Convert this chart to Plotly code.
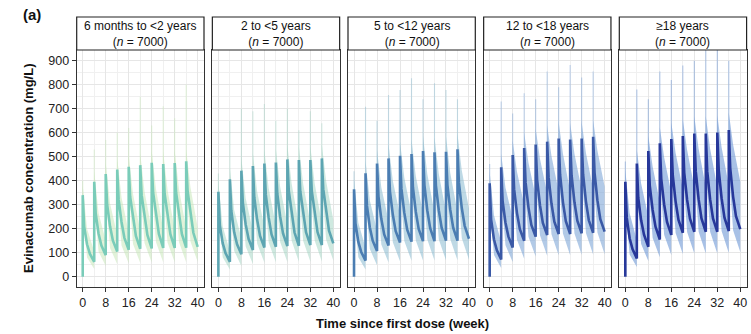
import plotly.graph_objects as go

# ---------------- data ----------------
dose_weeks = [0, 4, 8, 12, 16, 20, 24, 28, 32, 36]
end_week = 40
med_offsets = [0.5, 1.5, 2.5]     # sample times after each dose (median)
band_offsets = [1.5]              # sample times after each dose (band)

panel_titles = ["6 months to &lt;2 years", "2 to &lt;5 years", "5 to &lt;12 years",
                "12 to &lt;18 years", "≥18 years"]
panel_n = [7000, 7000, 7000, 7000, 7000]

# median rows per dose: [peak, +0.5 wk, +1.5 wk, +2.5 wk, value at next dose]
p1_median = [[340, 208, 135, 95, 62], [396, 265, 180, 130, 90], [428, 300, 210, 150, 105],
             [447, 320, 228, 162, 112], [458, 333, 240, 170, 116], [465, 340, 246, 174, 118],
             [475, 350, 252, 178, 120], [470, 346, 250, 177, 120], [474, 350, 252, 178, 121],
             [481, 356, 258, 183, 124]]
p2_median = [[354, 215, 140, 98, 62], [406, 275, 185, 135, 94], [442, 310, 218, 158, 111],
             [461, 330, 236, 170, 122], [472, 342, 246, 176, 125], [476, 346, 250, 180, 128],
             [489, 358, 258, 184, 129], [486, 356, 258, 185, 132], [486, 358, 260, 186, 132],
             [493, 365, 266, 192, 139]]
p3_median = [[364, 222, 145, 103, 67], [431, 295, 205, 150, 107], [472, 335, 240, 176, 130],
             [493, 356, 258, 190, 142], [504, 366, 266, 196, 146], [511, 372, 270, 199, 148],
             [524, 382, 276, 202, 148], [519, 380, 276, 203, 150], [521, 382, 278, 204, 150],
             [531, 392, 286, 212, 158]]
p4_median = [[389, 238, 155, 110, 72], [456, 315, 225, 168, 122], [507, 365, 265, 198, 150],
             [536, 392, 288, 216, 167], [551, 405, 298, 224, 174], [563, 415, 305, 229, 178],
             [576, 425, 310, 231, 178], [572, 423, 310, 233, 181], [576, 427, 313, 235, 183],
             [583, 433, 318, 240, 188]]
p5_median = [[396, 245, 160, 115, 76], [472, 328, 235, 175, 125], [524, 380, 278, 208, 155],
             [556, 408, 302, 228, 174], [574, 423, 313, 237, 183], [586, 433, 320, 242, 187],
             [597, 440, 323, 243, 187], [597, 440, 323, 243, 187], [601, 444, 327, 246, 190],
             [611, 453, 334, 252, 198]]

# prediction-interval rows per dose: [at dose, +1.5 wk, value at next dose]
p1_upper = [[380, 200, 105], [440, 265, 150], [475, 305, 175], [495, 330, 185], [505, 345, 192],
            [515, 355, 195], [525, 365, 198], [520, 362, 198], [525, 365, 200], [530, 372, 205]]
p1_lower = [[270, 80, 32], [320, 105, 45], [345, 120, 52], [360, 130, 56], [368, 136, 58],
            [372, 140, 59], [380, 144, 60], [376, 143, 60], [380, 144, 60], [385, 147, 62]]
p2_upper = [[395, 210, 105], [455, 278, 160], [495, 327, 189], [516, 354, 207], [529, 369, 213],
            [533, 375, 218], [548, 387, 219], [544, 387, 224], [544, 390, 224], [552, 399, 236]]
p2_lower = [[276, 81, 30], [317, 107, 45], [345, 126, 53], [360, 137, 59], [368, 143, 60],
            [371, 145, 61], [381, 150, 62], [379, 150, 63], [379, 151, 63], [385, 154, 67]]
p3_upper = [[408, 225, 121], [483, 318, 193], [529, 372, 234], [552, 400, 256], [564, 412, 263],
            [572, 419, 266], [587, 428, 266], [581, 428, 270], [584, 431, 270], [595, 443, 284]]
p3_lower = [[277, 81, 30], [328, 115, 48], [359, 134, 59], [375, 144, 64], [383, 149, 66],
            [388, 151, 67], [398, 155, 67], [394, 155, 68], [396, 156, 68], [404, 160, 71]]
p4_upper = [[436, 256, 144], [511, 371, 244], [568, 437, 300], [600, 475, 334], [617, 492, 348],
            [631, 503, 356], [645, 512, 356], [641, 512, 362], [645, 516, 366], [653, 525, 376]]
p4_lower = [[292, 90, 36], [342, 131, 61], [380, 154, 75], [402, 167, 84], [413, 173, 87],
            [422, 177, 89], [432, 180, 89], [429, 180, 91], [432, 182, 92], [437, 184, 94]]
p5_upper = [[444, 264, 152], [529, 388, 250], [587, 459, 310], [623, 498, 348], [643, 516, 366],
            [656, 528, 374], [669, 533, 374], [669, 533, 374], [673, 540, 380], [684, 551, 396]]
p5_lower = [[297, 93, 40], [354, 136, 65], [393, 161, 81], [417, 175, 90], [431, 182, 95],
            [440, 186, 97], [448, 187, 97], [448, 187, 97], [451, 190, 99], [458, 194, 103]]

# upper-percentile maxima right at the end of each infusion (thin spikes)
p1_spike = [400, 530, 570, 600, 620, 750, 630, 710, 660, 800]
p2_spike = [430, 650, 700, 690, 720, 650, 700, 610, 690, 640]
p3_spike = [440, 708, 650, 757, 778, 827, 740, 806, 778, 740]
p4_spike = [470, 730, 680, 765, 740, 855, 790, 882, 830, 855]
p5_spike = [480, 780, 740, 855, 820, 880, 900, 945, 960, 900]

x_ticks = [0, 8, 16, 24, 32, 40]
y_ticks = [0, 100, 200, 300, 400, 500, 600, 700, 800, 900]

# ---------------- style ----------------
line_colors = ["#7accb9", "#5da5b2", "#4b7db2", "#3a59a6", "#27389a"]
band_colors = ["rgba(195,230,180,0.5)", "rgba(155,208,190,0.48)", "rgba(130,182,205,0.52)",
               "rgba(115,158,212,0.55)", "rgba(105,148,212,0.58)"]
spike_colors = ["rgba(195,230,180,0.45)", "rgba(155,208,190,0.42)", "rgba(130,182,205,0.45)",
                "rgba(115,158,212,0.45)", "rgba(105,148,212,0.5)"]

medians = [p1_median, p2_median, p3_median, p4_median, p5_median]
uppers = [p1_upper, p2_upper, p3_upper, p4_upper, p5_upper]
lowers = [p1_lower, p2_lower, p3_lower, p4_lower, p5_lower]
spikes = [p1_spike, p2_spike, p3_spike, p4_spike, p5_spike]

W, H = 751, 334
PW = 127.3
PX0 = [76.7 + i * 135.65 for i in range(5)]
PLOT_TOP, PLOT_BOT = 50, 287
STRIP_TOP = 17
FONT = "Liberation Sans, Arial, sans-serif"


def build(rows, offsets):
    xs, ys = [], []
    prev = 0
    for d, row in zip(dose_weeks, rows):
        xs += [d, d] + [d + o for o in offsets]
        ys += [prev] + row[:-1]
        prev = row[-1]
    xs.append(end_week)
    ys.append(prev)
    return xs, ys


fig = go.Figure()
layout = dict(width=W, height=H, margin=dict(l=0, r=0, t=0, b=0), autosize=False,
              plot_bgcolor="white", paper_bgcolor="white", showlegend=False,
              font=dict(family=FONT, color="#111"))
shapes, annotations = [], []

for i in range(5):
    xa = "x" if i == 0 else f"x{i+1}"
    ya = "y" if i == 0 else f"y{i+1}"
    lx, ly = build(lowers[i], band_offsets)
    ux, uy = build(uppers[i], band_offsets)
    mx, my = build(medians[i], med_offsets)
    fig.add_trace(go.Scatter(x=lx, y=ly, mode="lines", line=dict(width=0), hoverinfo="skip",
                             xaxis=xa, yaxis=ya))
    fig.add_trace(go.Scatter(x=ux, y=uy, mode="lines", line=dict(width=0), fill="tonexty",
                             fillcolor=band_colors[i], hoverinfo="skip", xaxis=xa, yaxis=ya))
    sx, sy = [], []
    for d, row, top in zip(dose_weeks, medians[i], spikes[i]):
        sx += [d, d, None]
        sy += [row[0], top, None]
    fig.add_trace(go.Scatter(x=sx, y=sy, mode="lines", line=dict(width=1.1, color=spike_colors[i]),
                             hoverinfo="skip", xaxis=xa, yaxis=ya))
    fig.add_trace(go.Scatter(x=mx, y=my, mode="lines", line=dict(width=2.6, color=line_colors[i]),
                             xaxis=xa, yaxis=ya))

    x0 = PX0[i]
    xkey = "xaxis" if i == 0 else f"xaxis{i+1}"
    ykey = "yaxis" if i == 0 else f"yaxis{i+1}"
    layout[xkey] = dict(domain=[x0 / W, (x0 + PW) / W], anchor=ya, range=[-2.1, 42.2],
                        tickmode="array", tickvals=x_ticks, ticks="outside", ticklen=4,
                        tickcolor="#333", tickwidth=1, showline=True, mirror=True,
                        linecolor="#333", linewidth=1, showgrid=True, gridcolor="#e6e6e6",
                        gridwidth=1, zeroline=False,
                        minor=dict(tickmode="array", tickvals=[4, 12, 20, 28, 36], showgrid=True,
                                   gridcolor="#f0f0f0", gridwidth=0.8),
                        tickfont=dict(size=12.5, color="#222", family=FONT))
    layout[ykey] = dict(domain=[(H - PLOT_BOT) / H, (H - PLOT_TOP) / H], anchor=xa,
                        range=[-43, 945], tickmode="array", tickvals=y_ticks,
                        ticks="outside" if i == 0 else "", ticklen=4, tickcolor="#333",
                        showticklabels=(i == 0), showline=True, mirror=True,
                        linecolor="#333", linewidth=1, showgrid=True, gridcolor="#e6e6e6",
                        gridwidth=1, zeroline=False,
                        minor=dict(tickmode="array", tickvals=[50, 150, 250, 350, 450, 550, 650, 750, 850],
                                   showgrid=True, gridcolor="#f0f0f0", gridwidth=0.8),
                        tickfont=dict(size=12.5, color="#222", family=FONT))
    shapes.append(dict(type="rect", xref="paper", yref="paper", x0=x0 / W, x1=(x0 + PW) / W,
                       y0=(H - PLOT_TOP) / H, y1=(H - STRIP_TOP) / H,
                       line=dict(color="#222", width=1.2), fillcolor="white", layer="above"))
    annotations.append(dict(xref="paper", yref="paper", x=(x0 + PW / 2) / W,
                            y=(H - (STRIP_TOP + PLOT_TOP) / 2) / H, xanchor="center", yanchor="middle",
                            text=f"{panel_titles[i]}<br>(<i>n</i> = {panel_n[i]})", showarrow=False,
                            align="center", font=dict(size=12, color="#111", family=FONT)))

annotations.append(dict(xref="paper", yref="paper", x=21 / W, y=(H - 15) / H, xanchor="left",
                        yanchor="middle", text="<b>(a)</b>", showarrow=False,
                        font=dict(size=15, color="#111", family=FONT)))
annotations.append(dict(xref="paper", yref="paper", x=28.5 / W, y=(H - (PLOT_TOP + PLOT_BOT) / 2) / H,
                        xanchor="center", yanchor="middle", textangle=-90,
                        text="<b>Evinacumab concentration (mg/L)</b>", showarrow=False,
                        font=dict(size=13, color="#111", family=FONT)))
annotations.append(dict(xref="paper", yref="paper", x=402 / W, y=(H - 323) / H, xanchor="center",
                        yanchor="middle", text="<b>Time since first dose (week)</b>", showarrow=False,
                        font=dict(size=13, color="#111", family=FONT)))

layout["shapes"] = shapes
layout["annotations"] = annotations
fig.update_layout(**layout)
fig.write_html("out.html")
